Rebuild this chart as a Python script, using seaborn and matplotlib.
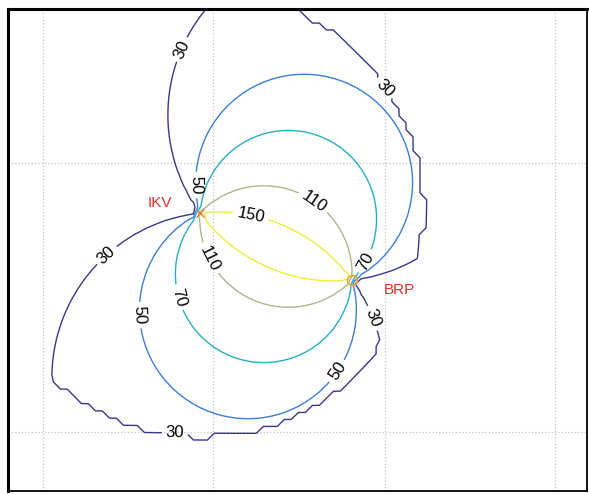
import numpy as np
import matplotlib
matplotlib.use("Agg")
import matplotlib.pyplot as plt
import seaborn as sns

# sites (plot frame units, y up)
site_names = ["IKV", "BRP"]
site_x = [200, 352]
site_y = [281, 214]
coverage_radius = 225  # around IKV

# contour levels (bistatic angle, deg) and their colours
levels = [30, 50, 70, 110, 150]
level_colors = ["#3a378a", "#3b7fd4", "#27aec4", "#b4b48c", "#eeee3a"]

# label anchor points
label_pos = [
    (183, 444), (381, 402), (115, 229), (175, 54), (373, 176),
    (195, 309), (143, 179), (340, 121),
    (180, 197), (367, 232),
    (315, 294), (210, 236),
    (250, 274),
]

grid_x = [43, 213, 385, 555]
grid_y = [62, 331]

sns.set_theme(style="white")
plt.rcParams["font.family"] = ["Liberation Sans", "DejaVu Sans"]

# bistatic angle field
gx = np.arange(4, 592, 7.0) + 0.37
gy = np.arange(0, 490, 7.0) + 0.21
X, Y = np.meshgrid(gx, gy)
tx, ty = site_x[0], site_y[0]
rx, ry = site_x[1], site_y[1]
ax1, ay1 = tx - X, ty - Y
bx1, by1 = rx - X, ry - Y
cosb = (ax1 * bx1 + ay1 * by1) / (np.hypot(ax1, ay1) * np.hypot(bx1, by1))
beta = np.degrees(np.arccos(np.clip(cosb, -1, 1)))
beta[np.hypot(X - tx, Y - ty) > coverage_radius] = 0

fig = plt.figure(figsize=(5.89, 4.94), dpi=100)
ax = fig.add_axes([8 / 589, 3 / 494, 579 / 589, 482 / 494])

cs = ax.contour(X, Y, beta, levels=levels, colors=level_colors, linewidths=1.0)
ax.clabel(cs, manual=label_pos, inline=True, fontsize=12, fmt="%d",
          inline_spacing=4, colors="black")

ax.plot(site_x[1], site_y[1], "o", mfc="none", mec="#f0a030", ms=7, mew=1.2)
ax.plot(site_x[0], site_y[0], "x", color="#e08040", ms=6, mew=1.0)

ax.text(site_x[0] - 52, site_y[0] + 10, site_names[0], color="#e0302a",
        fontsize=11, ha="left", va="center")
ax.text(site_x[1] + 32, site_y[1] - 10, site_names[1], color="#e0302a",
        fontsize=11, ha="left", va="center")

ax.set_xlim(8, 587)
ax.set_ylim(3, 485)
ax.set_xticks(grid_x)
ax.set_yticks(grid_y)
ax.set_xticklabels([])
ax.set_yticklabels([])
ax.tick_params(length=0)
ax.grid(True, linestyle=":", color="#c4c4c4", linewidth=0.9)
for side, s in ax.spines.items():
    s.set_color("black")
    s.set_linewidth(2.2 if side in ("left", "top") else 1.3)

fig.savefig("out.png", dpi=100)
